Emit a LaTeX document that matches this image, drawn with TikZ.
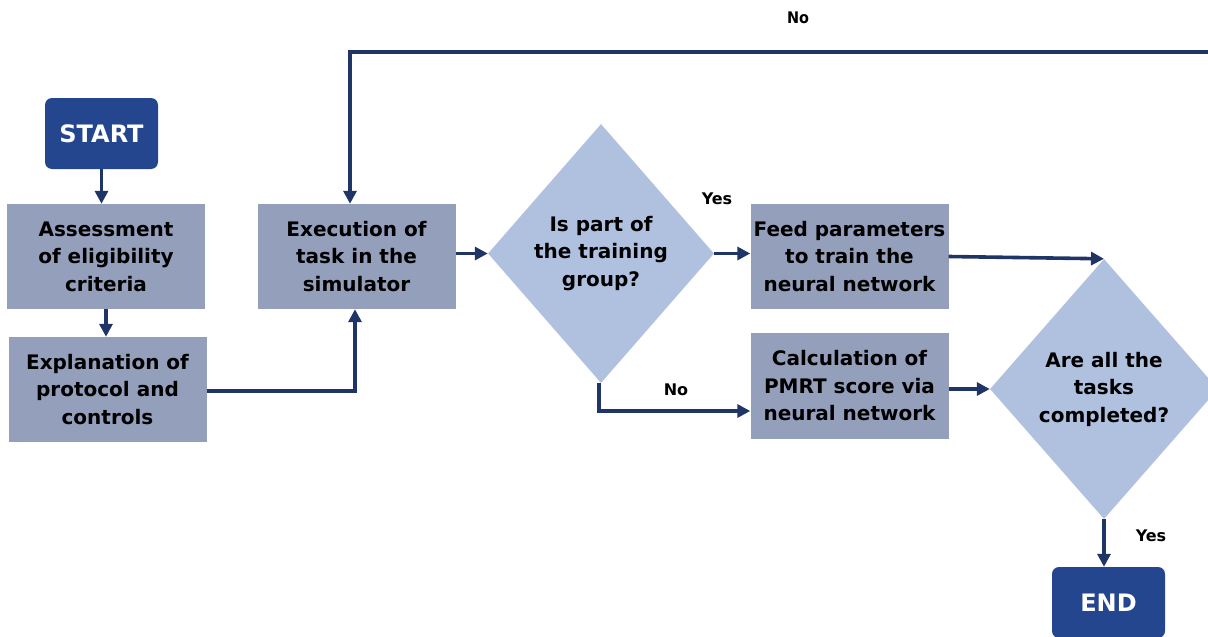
\documentclass[tikz,border=0pt]{standalone}
\usepackage{fontspec}
\setmainfont{DejaVu Sans}
\usetikzlibrary{shapes.geometric,arrows.meta}
\definecolor{navy}{HTML}{1F3566}
\definecolor{termblue}{HTML}{24468E}
\definecolor{procgray}{HTML}{949FBB}
\definecolor{decblue}{HTML}{B0C1E0}
\begin{document}
\begin{tikzpicture}[x=1pt,y=-1pt,
  proc/.style={rectangle, fill=procgray, minimum width=198pt, minimum height=105pt,
    inner sep=0pt, align=center, font=\fontsize{20}{27.5}\selectfont\bfseries},
  dec/.style={diamond, fill=decblue, minimum width=226pt, minimum height=259pt,
    inner sep=0pt, align=center, font=\fontsize{20}{27.5}\selectfont\bfseries},
  term/.style={rectangle, rounded corners=7pt, fill=termblue, text=white,
    minimum width=113pt, minimum height=71pt, inner sep=0pt,
    font=\fontsize{24}{28}\selectfont\bfseries},
  lbl/.style={font=\fontsize{16}{18}\selectfont\bfseries, inner sep=0pt},
  arr/.style={draw=navy, line width=3.6pt, -{Triangle[length=13pt,width=13pt]}}
]
\useasboundingbox (0,0) rectangle (1208,637);
\clip (0,0) rectangle (1208,637);

% terminals
\node[term] (start) at (101.5,133.5) {START};
\node[term] (end) at (1108.5,602.5) {END};

% process steps
\node[proc] (assess) at (106,256.5) {Assessment\\of eligibility\\criteria};
\node[proc] (expl) at (107.5,389.5) {Explanation of\\protocol and\\controls};
\node[proc] (exec) at (356.5,256.5) {Execution of\\task in the\\simulator};
\node[proc] (feed) at (849.5,256.5) {Feed parameters\\to train the\\neural network};
\node[proc, minimum height=106pt] (calc) at (849.5,386) {Calculation of\\PMRT score via\\neural network};

% decisions
\node[dec] (d1) at (601,253.5) {Is part of\\the training\\group?};
\node[dec, minimum width=228pt, minimum height=260pt] (d2) at (1104,389) {Are all the\\tasks\\completed?};

% branch labels
\node[lbl] (yes1) at (717,199) {Yes};
\node[lbl] (no1) at (676,390) {No};
\node[lbl] (yes2) at (1151,536) {Yes};
\node[lbl, xscale=0.9] (no2) at (798,18) {No};

% connectors
\coordinate (loop) at (350,52);
\draw[arr] (start.south) -- (start.south |- assess.north);
\draw[arr] (assess.south) -- (assess.south |- expl.north);
\draw[arr] ([yshift=-1.5pt]expl.east) -| ([xshift=-1.5pt]exec.south);
\draw[arr] (exec.east |- d1.west) -- (d1.west);
\draw[arr] (d1.east) -- (d1.east -| feed.west);
\draw[arr] ([xshift=-2pt]d1.south) |- ([yshift=-25pt]calc.west);
\draw[arr] (feed.east) -- (d2.north);
\draw[arr] (calc.east |- d2.west) -- (d2.west);
\draw[arr] (d2.south) -- (d2.south |- end.north);
\draw[arr] (d2.east) -- ++(20,0) |- (loop) -- ([xshift=-6.5pt]exec.north);
\end{tikzpicture}
\end{document}
